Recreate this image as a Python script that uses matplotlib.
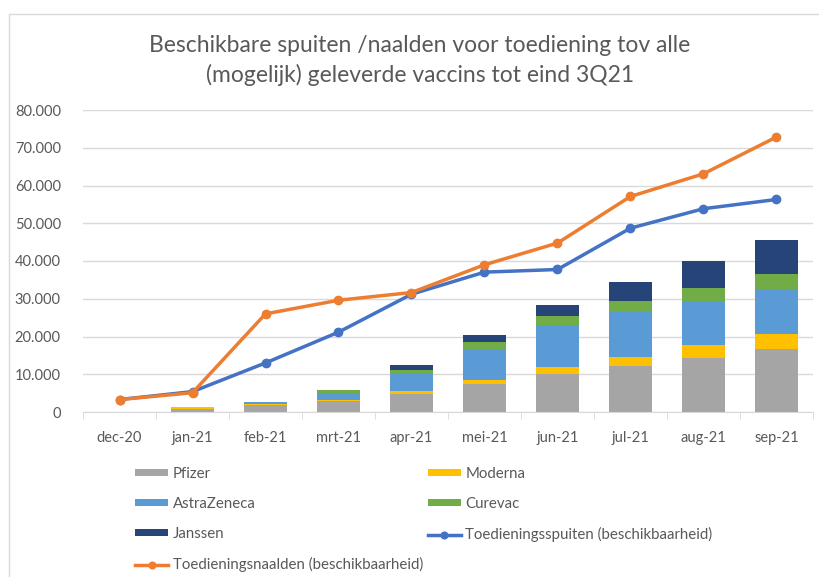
import matplotlib
matplotlib.use("Agg")
import matplotlib.pyplot as plt
from matplotlib.patches import Rectangle
from matplotlib.ticker import FuncFormatter
import numpy as np

plt.rcParams["font.family"] = ["Lato", "DejaVu Sans"]

months = ["dec-20", "jan-21", "feb-21", "mrt-21", "apr-21", "mei-21",
          "jun-21", "jul-21", "aug-21", "sep-21"]
pfizer = [0, 700, 1900, 2800, 4850, 7400, 10000, 12200, 14300, 16700]
moderna = [0, 600, 200, 400, 800, 1150, 1850, 2450, 3450, 4050]
astrazeneca = [0, 0, 650, 1850, 4700, 8150, 11300, 11750, 11750, 11950]
curevac = [0, 0, 0, 700, 850, 1950, 2200, 3000, 3350, 3900]
janssen = [0, 0, 0, 0, 1350, 1850, 3050, 5000, 7250, 9000]
spuiten = [3300, 5400, 13000, 21150, 31200, 37050, 37750, 48700, 53850, 56300]
naalden = [3300, 5100, 26000, 29600, 31650, 39000, 44750, 57100, 63100, 72850]

bar_series = [("Pfizer", pfizer, "#a5a5a5"), ("Moderna", moderna, "#ffc000"),
              ("AstraZeneca", astrazeneca, "#5b9bd5"), ("Curevac", curevac, "#70ad47"),
              ("Janssen", janssen, "#264478")]
TXT = "#595959"

fig = plt.figure(figsize=(8.2, 5.77), dpi=100)
fig.patches.append(Rectangle((9 / 820, -0.1), 1.2, 1.1 - 14 / 577, transform=fig.transFigure,
                             fill=False, edgecolor="#d9d9d9", linewidth=1))
ax = fig.add_axes([83 / 820, 1 - 412 / 577, 730 / 820, 302 / 577])

x = np.arange(len(months))
bottom = np.zeros(len(months))
handles = {}
for name, vals, col in bar_series:
    handles[name] = ax.bar(x, vals, 0.6, bottom=bottom, color=col, zorder=2)
    bottom += np.array(vals)

handles["sp"], = ax.plot(x, spuiten, color="#4472c4", linewidth=2.5, marker="o",
                         markersize=6, zorder=3)
handles["na"], = ax.plot(x, naalden, color="#ed7d31", linewidth=2.5, marker="o",
                         markersize=6, zorder=4)

ax.set_xlim(-0.5, len(months) - 0.5)
ax.set_ylim(0, 80000)
ax.set_yticks(np.arange(0, 80001, 10000))
ax.yaxis.set_major_formatter(FuncFormatter(lambda v, p: f"{int(v):,}".replace(",", ".")))
ax.set_xticks(x)
ax.set_xticklabels(months)
ax.set_xticks(np.arange(-0.5, len(months), 1), minor=True)
ax.tick_params(axis="x", which="major", length=0, pad=14, labelsize=10.5, labelcolor=TXT)
ax.tick_params(axis="x", which="minor", length=5, color="#d9d9d9")
ax.tick_params(axis="y", length=0, pad=16, labelsize=10.5, labelcolor=TXT)
ax.grid(axis="y", color="#d9d9d9", linewidth=1, zorder=0)
ax.set_axisbelow(True)
for s in ["top", "right", "left"]:
    ax.spines[s].set_visible(False)
ax.spines["bottom"].set_color("#d9d9d9")

fig.text(420 / 820, 1 - 45 / 577, "Beschikbare spuiten /naalden voor toediening tov alle",
         ha="center", va="center", fontsize=16.5, color=TXT)
fig.text(420 / 820, 1 - 75 / 577, "(mogelijk) geleverde vaccins tot eind 3Q21",
         ha="center", va="center", fontsize=16.5, color=TXT)

# matplotlib fills legend columns first, so list column 1 then column 2
order = [("Pfizer", "Pfizer"), ("AstraZeneca", "AstraZeneca"), ("Janssen", "Janssen"),
         ("na", "Toedieningsnaalden (beschikbaarheid)"),
         ("Moderna", "Moderna"), ("Curevac", "Curevac"),
         ("sp", "Toedieningsspuiten (beschikbaarheid)")]
fig.legend([handles[k] for k, _ in order], [l for _, l in order],
           loc="upper left", bbox_to_anchor=(122 / 820, 1 - 453 / 577), ncol=2,
           frameon=False, fontsize=10.8, labelcolor=TXT, handlelength=2.2,
           handleheight=0.35, handletextpad=0.3, columnspacing=0.3, labelspacing=1.08,
           markerscale=0.8)

fig.savefig("out.png", dpi=100)
